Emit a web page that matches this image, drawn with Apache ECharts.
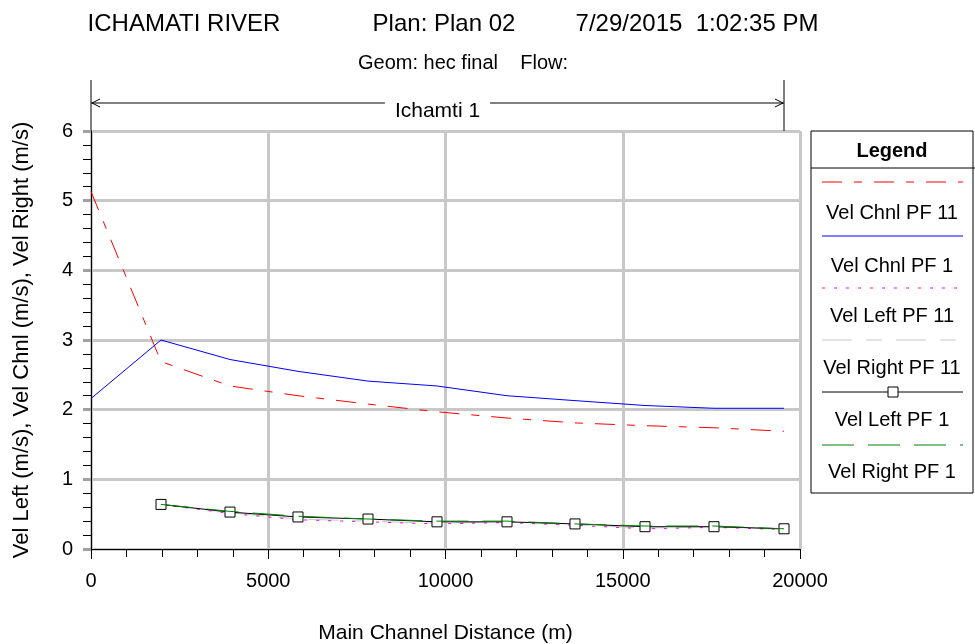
<!DOCTYPE html>
<html><head><meta charset="utf-8">
<script src="https://cdn.jsdelivr.net/npm/echarts@6/dist/echarts.min.js"></script>
<style>html,body{margin:0;padding:0;background:#fff}#c{width:975px;height:644px}</style>
</head><body><div id="c"></div>
<script>
const stations = [0,1975,3921,5839,7814,9760,11735,13653,15628,17574,19549];
const velChnlPF11 = [5.13,2.69,2.34,2.20,2.08,1.97,1.88,1.81,1.77,1.74,1.69];
const velChnlPF1 = [2.16,3.00,2.72,2.55,2.41,2.34,2.20,2.13,2.06,2.02,2.02];
const velLeftPF11 = [null,0.64,0.51,0.42,0.39,0.36,0.38,0.34,0.29,0.31,0.28];
const velRightPF11 = [null,0.64,0.52,0.43,0.40,0.37,0.39,0.35,0.30,0.32,0.28];
const velLeftPF1 = [null,0.64,0.53,0.46,0.43,0.39,0.39,0.36,0.32,0.32,0.29];
const velRightPF1 = [null,0.64,0.54,0.47,0.43,0.40,0.40,0.36,0.33,0.33,0.29];
const seriesNames = ['Vel Chnl PF 11','Vel Chnl PF 1','Vel Left PF 11','Vel Right PF 11','Vel Left PF 1','Vel Right PF 1'];
const xMin = 0, xMax = 20000, xStep = 5000;
const yMin = 0, yMax = 6, yStep = 1;
const reachName = 'Ichamti 1';
const reachStart = 0, reachEnd = 19549;

const FONT = 'Liberation Sans, Arial, sans-serif';
const styles = [
  {color:'#ff0000', type:[20,12,8,12], symbol:'none'},
  {color:'#0000ff', type:'solid', symbol:'none'},
  {color:'#ff00ff', type:[3,9], symbol:'none'},
  {color:'#c8c8c8', type:[30,14,16,14], symbol:'none'},
  {color:'#000000', type:'solid', symbol:'rect'},
  {color:'#008000', type:[32,14], symbol:'none'}
];
const values = [velChnlPF11, velChnlPF1, velLeftPF11, velRightPF11, velLeftPF1, velRightPF1];
const drawOrder = [3,2,4,5,0,1];

const chart = echarts.init(document.getElementById('c'), null, {renderer:'canvas'});
const series = drawOrder.map(i => ({
  name: seriesNames[i], type:'line', animation:false,
  data: stations.map((s,k) => values[i][k] == null ? null : [s, values[i][k]]).filter(d => d),
  symbol: styles[i].symbol, symbolSize: 10, showSymbol: styles[i].symbol !== 'none',
  itemStyle: {color:'#ffffff', borderColor:'#000', borderWidth:1},
  lineStyle: {color: styles[i].color, width:1, type: styles[i].type},
  z: 3 + drawOrder.indexOf(i)
}));

chart.setOption({
  backgroundColor:'#fff',
  animation:false,
  grid:{left:91, right:175, top:131, bottom:95, containLabel:false, outerBoundsMode:'none'},
  xAxis:{type:'value', min:xMin, max:xMax, interval:xStep,
    name:'Main Channel Distance (m)', nameLocation:'middle', nameGap:74,
    nameTextStyle:{fontSize:21, color:'#000', fontFamily:FONT},
    axisLine:{show:true, onZero:false, lineStyle:{color:'#000', width:1}},
    axisTick:{show:true, length:10, lineStyle:{color:'#000'}},
    minorTick:{show:true, splitNumber:5, length:8, lineStyle:{color:'#000'}},
    splitLine:{show:true, lineStyle:{color:'#c8c8c8', width:3}},
    axisLabel:{fontSize:20, color:'#000', margin:22, fontFamily:FONT, formatter: v => String(v)}
  },
  yAxis:{type:'value', min:yMin, max:yMax, interval:yStep,
    name:'Vel Left (m/s), Vel Chnl (m/s), Vel Right (m/s)', nameLocation:'middle', nameGap:58, nameRotate:90,
    nameTextStyle:{fontSize:22, color:'#000', fontFamily:FONT},
    axisLine:{show:true, onZero:false, lineStyle:{color:'#000', width:1}},
    axisTick:{show:true, length:8, lineStyle:{color:'#a0a0a0', width:3}},
    minorTick:{show:true, splitNumber:5, length:8, lineStyle:{color:'#000'}},
    splitLine:{show:true, lineStyle:{color:'#c8c8c8', width:3}},
    axisLabel:{fontSize:20, color:'#000', margin:18, fontFamily:FONT}
  },
  series: series
});

// Reach annotation and legend
const p0 = chart.convertToPixel({gridIndex:0}, [reachStart, yMax]);
const p1 = chart.convertToPixel({gridIndex:0}, [reachEnd, yMax]);
const ay = 103, topY = 80;
const g = [];
g.push({type:'line', shape:{x1:p0[0], y1:topY, x2:p0[0], y2:p0[1]}, style:{stroke:'#000', lineWidth:1}});
g.push({type:'line', shape:{x1:p1[0], y1:topY, x2:p1[0], y2:p1[1]}, style:{stroke:'#000', lineWidth:1}});
g.push({type:'line', shape:{x1:p0[0], y1:ay, x2:p1[0], y2:ay}, style:{stroke:'#000', lineWidth:1}});
g.push({type:'polyline', shape:{points:[[p0[0]+9,ay-4],[p0[0]+1,ay],[p0[0]+9,ay+4]]}, style:{stroke:'#000', fill:null, lineWidth:1}});
g.push({type:'polyline', shape:{points:[[p1[0]-9,ay-4],[p1[0]-1,ay],[p1[0]-9,ay+4]]}, style:{stroke:'#000', fill:null, lineWidth:1}});
g.push({type:'text', x:(p0[0]+p1[0])/2, y:111, style:{text:reachName, fontSize:21, fontFamily:FONT, fill:'#000', align:'center', verticalAlign:'middle', backgroundColor:'#fff', padding:[0,10]}});

// titles
g.push({type:'text', x:184, y:24, style:{text:'ICHAMATI RIVER', fontSize:24, fontFamily:FONT, fill:'#000', align:'center', verticalAlign:'middle'}});
g.push({type:'text', x:444, y:24, style:{text:'Plan: Plan 02', fontSize:24, fontFamily:FONT, fill:'#000', align:'center', verticalAlign:'middle'}});
g.push({type:'text', x:697, y:24, style:{text:'7/29/2015  1:02:35 PM', fontSize:24, fontFamily:FONT, fill:'#000', align:'center', verticalAlign:'middle'}});
g.push({type:'text', x:463, y:63, style:{text:'Geom: hec final    Flow:', fontSize:20, fontFamily:FONT, fill:'#000', align:'center', verticalAlign:'middle'}});

// legend box
const lx0 = 811, lx1 = 973, ly0 = 131, ly1 = 493;
g.push({type:'rect', shape:{x:lx0, y:ly0, width:lx1-lx0, height:ly1-ly0}, style:{stroke:'#000', fill:'#fff', lineWidth:1}});
g.push({type:'line', shape:{x1:lx0, y1:168, x2:975, y2:168}, style:{stroke:'#000', lineWidth:1}});
g.push({type:'text', x:892, y:151, style:{text:'Legend', fontSize:20, fontWeight:'bold', fontFamily:FONT, fill:'#000', align:'center', verticalAlign:'middle'}});
const sampleY = [182,236,288,340,392,445];
const labelY = [213,266,316,368,420,472];
seriesNames.forEach((n,i) => {
  g.push({type:'line', shape:{x1:822, y1:sampleY[i], x2:963, y2:sampleY[i]}, style:{stroke:styles[i].color, lineWidth:1, lineDash: Array.isArray(styles[i].type)? styles[i].type : null}});
  if (styles[i].symbol === 'rect') g.push({type:'rect', shape:{x:888, y:sampleY[i]-5, width:10, height:10}, style:{stroke:'#000', fill:'#fff', lineWidth:1}});
  g.push({type:'text', x:892, y:labelY[i], style:{text:n, fontSize:20, fontFamily:FONT, fill:'#000', align:'center', verticalAlign:'middle'}});
});
chart.setOption({graphic: g});
</script></body></html>
